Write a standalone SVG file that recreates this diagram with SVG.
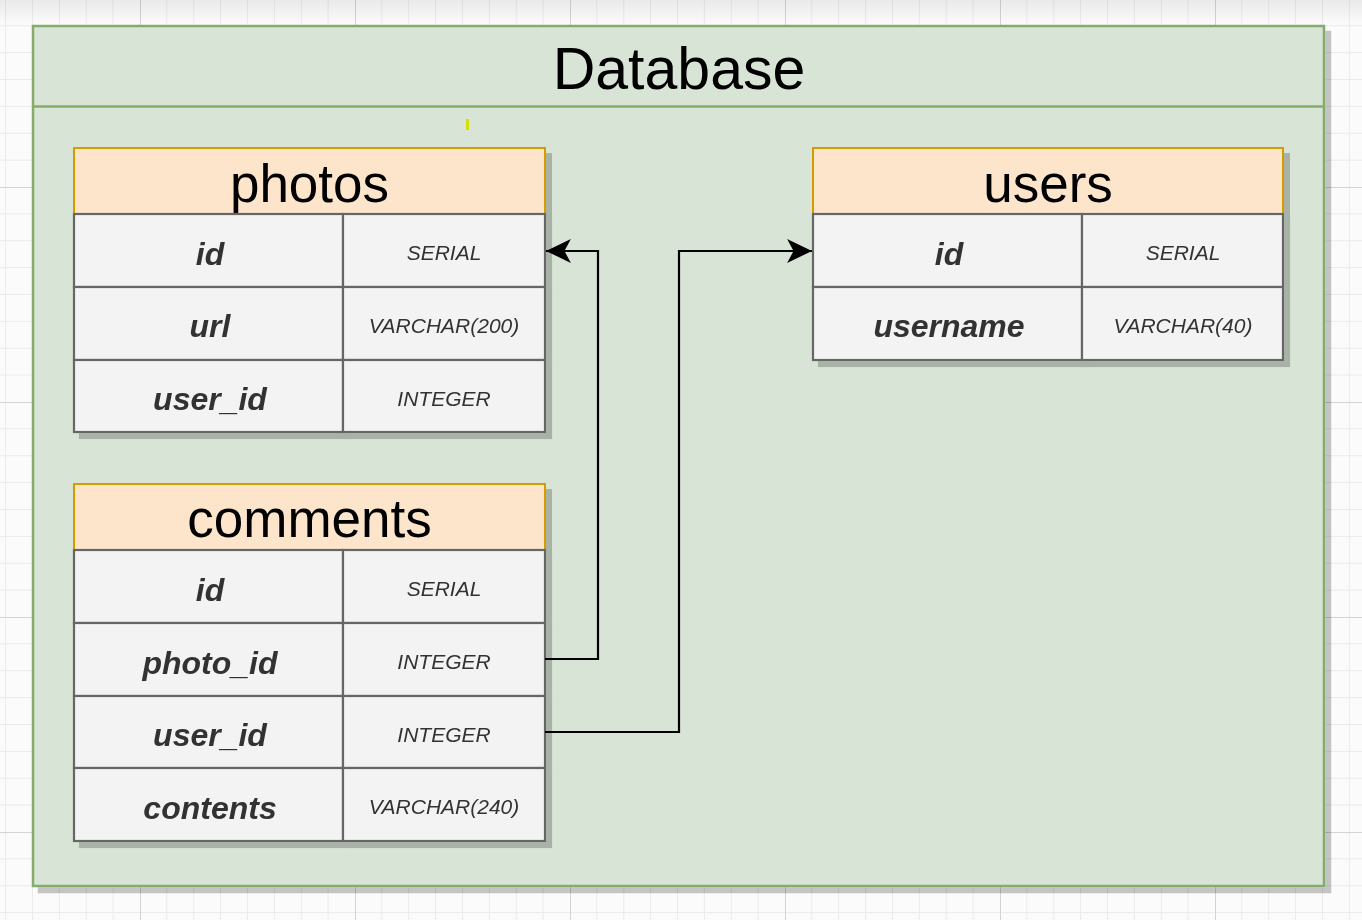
<svg xmlns="http://www.w3.org/2000/svg" width="1362" height="920" viewBox="0 0 1362 920">
<defs>
<pattern id="grid" patternUnits="userSpaceOnUse" x="140" y="187" width="215" height="215">
<path d="M26.875 0V215M53.75 0V215M80.625 0V215M107.5 0V215M134.375 0V215M161.25 0V215M188.125 0V215M0 26.875H215M0 53.75H215M0 80.625H215M0 107.5H215M0 134.375H215M0 161.25H215M0 188.125H215" stroke="#ebebeb" stroke-width="1" fill="none"/>
<path d="M0.5 0V215M0 0.5H215" stroke="#d4d4d4" stroke-width="1" fill="none"/>
</pattern>
<linearGradient id="topband" x1="0" y1="0" x2="0" y2="1">
<stop offset="0" stop-color="#000" stop-opacity="0.07"/>
<stop offset="1" stop-color="#000" stop-opacity="0"/>
</linearGradient>
<filter id="sh" x="-5%" y="-5%" width="115%" height="115%">
<feOffset in="SourceAlpha" dx="6" dy="6" result="o"/>
<feComponentTransfer in="o" result="s"><feFuncA type="linear" slope="0.22"/></feComponentTransfer>
<feMerge><feMergeNode in="s"/><feMergeNode in="SourceGraphic"/></feMerge>
</filter>
<marker id="arr" markerUnits="userSpaceOnUse" markerWidth="26" markerHeight="26" viewBox="0 -12 24 24" refX="23" refY="0" orient="auto">
<path d="M0,-11 L23,0 L0,11 L6,0 Z" fill="#000"/>
</marker>
<style>
.hdr{fill:#fde5cc;stroke:#d79b00;stroke-width:2}
.cell{fill:#f3f3f3;stroke:#666;stroke-width:2.2}
.ttl{font-family:"Liberation Sans",Arial,sans-serif;font-size:53px;fill:#000;text-anchor:middle}
.nm{font-family:"Liberation Sans",Arial,sans-serif;font-size:32px;font-weight:bold;font-style:italic;fill:#333;text-anchor:middle}
.ty{font-family:"Liberation Sans",Arial,sans-serif;font-size:21px;font-style:italic;fill:#333;text-anchor:middle}
.conn{fill:none;stroke:#000;stroke-width:2.2}
</style>
</defs>
<rect width="1362" height="920" fill="#fbfbfb"/>
<rect width="1362" height="920" fill="url(#grid)"/>
<rect width="1362" height="25" fill="url(#topband)"/>

<g id="database">
<rect x="33" y="26" width="1291" height="860" fill="#d8e4d5" stroke="#86ac6c" stroke-width="2.5" filter="url(#sh)"/>
<line x1="33" y1="106.5" x2="1324" y2="106.5" stroke="#86ac6c" stroke-width="2.5"/>
<text x="679" y="89" font-family="'Liberation Sans',Arial,sans-serif" font-size="59" text-anchor="middle" fill="#000">Database</text>
<rect x="466" y="119" width="3" height="11" fill="#d4e000"/>
</g>

<g id="photos" filter="url(#sh)">
<rect class="hdr" x="74" y="148" width="471" height="66"/>
<text class="ttl" x="309.5" y="202">photos</text>
<rect class="cell" x="74" y="214" width="269" height="73"/>
<rect class="cell" x="343" y="214" width="202" height="73"/>
<rect class="cell" x="74" y="287" width="269" height="73"/>
<rect class="cell" x="343" y="287" width="202" height="73"/>
<rect class="cell" x="74" y="360" width="269" height="72"/>
<rect class="cell" x="343" y="360" width="202" height="72"/>
<text class="nm" x="210" y="265">id</text>
<text class="ty" x="444" y="260">SERIAL</text>
<text class="nm" x="210" y="337">url</text>
<text class="ty" x="444" y="333">VARCHAR(200)</text>
<text class="nm" x="210" y="410">user_id</text>
<text class="ty" x="444" y="406">INTEGER</text>
</g>

<g id="comments" filter="url(#sh)">
<rect class="hdr" x="74" y="484" width="471" height="66"/>
<text class="ttl" x="309.5" y="537">comments</text>
<rect class="cell" x="74" y="550" width="269" height="73"/>
<rect class="cell" x="343" y="550" width="202" height="73"/>
<rect class="cell" x="74" y="623" width="269" height="73"/>
<rect class="cell" x="343" y="623" width="202" height="73"/>
<rect class="cell" x="74" y="696" width="269" height="72"/>
<rect class="cell" x="343" y="696" width="202" height="72"/>
<rect class="cell" x="74" y="768" width="269" height="73"/>
<rect class="cell" x="343" y="768" width="202" height="73"/>
<text class="nm" x="210" y="601">id</text>
<text class="ty" x="444" y="596">SERIAL</text>
<text class="nm" x="210" y="674">photo_id</text>
<text class="ty" x="444" y="669">INTEGER</text>
<text class="nm" x="210" y="746">user_id</text>
<text class="ty" x="444" y="742">INTEGER</text>
<text class="nm" x="210" y="819">contents</text>
<text class="ty" x="444" y="814">VARCHAR(240)</text>
</g>

<g id="users" filter="url(#sh)">
<rect class="hdr" x="813" y="148" width="470" height="66"/>
<text class="ttl" x="1048" y="202">users</text>
<rect class="cell" x="813" y="214" width="269" height="73"/>
<rect class="cell" x="1082" y="214" width="201" height="73"/>
<rect class="cell" x="813" y="287" width="269" height="73"/>
<rect class="cell" x="1082" y="287" width="201" height="73"/>
<text class="nm" x="949" y="265">id</text>
<text class="ty" x="1183" y="260">SERIAL</text>
<text class="nm" x="949" y="337">username</text>
<text class="ty" x="1183" y="333">VARCHAR(40)</text>
</g>

<g id="connectors">
<path class="conn" d="M545,659 H598 V251 H546" marker-end="url(#arr)"/>
<path class="conn" d="M545,732 H679 V251 H812" marker-end="url(#arr)"/>
</g>
</svg>
